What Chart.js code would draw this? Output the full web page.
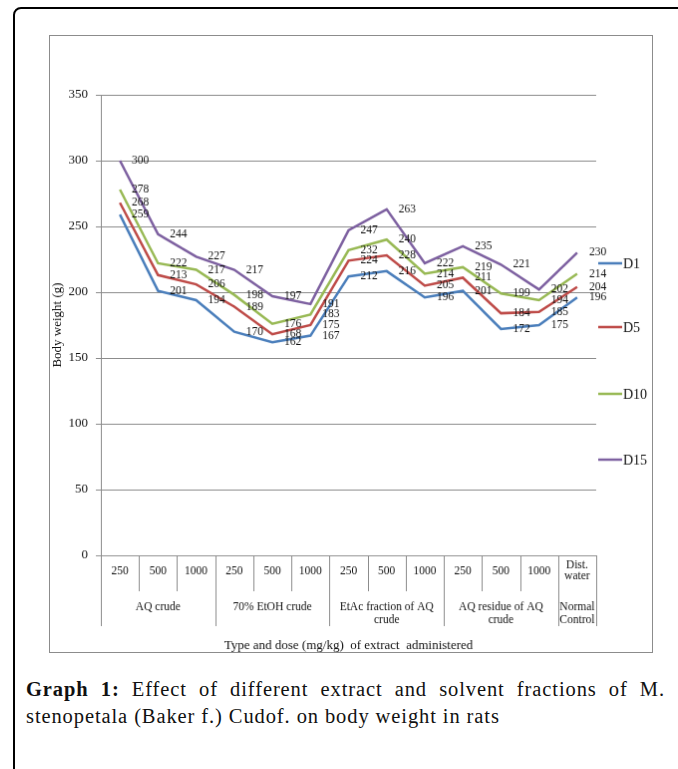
<!DOCTYPE html>
<html>
<head>
<meta charset="utf-8">
<script src="https://cdn.jsdelivr.net/npm/chart.js"></script>
<style>
  body { margin: 0; background: #fff; width: 678px; height: 769px; overflow: hidden; position: relative; }
  #frame { position: absolute; left: 13px; top: 7px; width: 720px; height: 800px; border: 2px solid #000; border-radius: 8px; }
  #chart { position: absolute; left: 49px; top: 35px; border: 1px solid #8c8c8c; }
  #caption { position: absolute; left: 26px; top: 676px; width: 639px; font-family: "Liberation Serif", serif; font-size: 20.5px; letter-spacing: 0.9px; line-height: 27px; text-align: justify; text-align-last: left; color: #111; }
</style>
</head>
<body>
<div id="frame"></div>
<canvas id="chart" width="604" height="618"></canvas>
<div id="caption"><b>Graph 1:</b> Effect of different extract and solvent fractions of M. stenopetala (Baker f.) Cudof. on body weight in rats</div>
<script>
// categories (dose) and their groups
const doses = ['250', '500', '1000', '250', '500', '1000', '250', '500', '1000', '250', '500', '1000', ['Dist.', 'water']];
const groups = [
  { name: ['AQ crude'], span: 3 },
  { name: ['70% EtOH crude'], span: 3 },
  { name: ['EtAc fraction of AQ', 'crude'], span: 3 },
  { name: ['AQ residue of AQ', 'crude'], span: 3 },
  { name: ['Normal', 'Control'], span: 1 }
];
const seriesNames = ['D1', 'D5', 'D10', 'D15'];
const d1 = [259, 201, 194, 170, 162, 167, 212, 216, 196, 201, 172, 175, 196];
const d5 = [268, 213, 206, 189, 168, 175, 224, 228, 205, 211, 184, 185, 204];
const d10 = [278, 222, 217, 198, 176, 183, 232, 240, 214, 219, 199, 194, 214];
const d15 = [300, 244, 227, 217, 197, 191, 247, 263, 222, 235, 221, 202, 230];
const colors = ['#4a7ebb', '#be4b48', '#98b954', '#7d60a0'];
const yTicks = [0, 50, 100, 150, 200, 250, 300, 350];

const serif = '"Liberation Serif", "Times New Roman", serif';
const gridColor = '#8c8c8c';

// data labels to the right of each point
const valueLabels = {
  id: 'valueLabels',
  afterDatasetsDraw(chart) {
    const ctx = chart.ctx;
    ctx.save();
    ctx.font = '11.5px ' + serif;
    ctx.fillStyle = '#111';
    ctx.textAlign = 'left';
    ctx.textBaseline = 'middle';
    chart.data.datasets.forEach((ds, i) => {
      chart.getDatasetMeta(i).data.forEach((pt, j) => {
        ctx.fillText(String(ds.data[j]), pt.x + 12, pt.y);
      });
    });
    ctx.restore();
  }
};

// two-level category axis + legend
const catAxis = {
  id: 'catAxis',
  afterDraw(chart) {
    const ctx = chart.ctx;
    const area = chart.chartArea;
    const n = doses.length;
    const w = (area.right - area.left) / n;
    ctx.save();
    ctx.strokeStyle = gridColor;
    ctx.lineWidth = 1;
    const groupEdges = [0];
    groups.forEach(g => groupEdges.push(groupEdges[groupEdges.length - 1] + g.span));
    for (let i = 0; i <= n; i++) {
      const x = Math.round(area.left + i * w) + 0.5;
      const len = groupEdges.includes(i) ? 71 : 36;
      ctx.beginPath();
      ctx.moveTo(x, area.bottom);
      ctx.lineTo(x, area.bottom + len);
      ctx.stroke();
    }
    ctx.fillStyle = '#111';
    ctx.textAlign = 'center';
    ctx.textBaseline = 'middle';
    ctx.font = '11.5px ' + serif;
    doses.forEach((d, i) => {
      const x = area.left + (i + 0.5) * w;
      if (Array.isArray(d)) {
        ctx.fillText(d[0], x, area.bottom + 10);
        ctx.fillText(d[1], x, area.bottom + 21);
      } else {
        ctx.fillText(d, x, area.bottom + 16);
      }
    });
    groups.forEach((g, k) => {
      const x = area.left + (groupEdges[k] + g.span / 2) * w;
      g.name.forEach((line, m) => ctx.fillText(line, x, area.bottom + 52 + m * 13));
    });
    ctx.font = '13px ' + serif;
    ctx.fillText('Type and dose (mg/kg)  of extract  administered', (area.left + area.right) / 2, area.bottom + 91);

    // legend
    const legendY = [228, 292, 359, 425];
    ctx.textAlign = 'left';
    ctx.font = '14px ' + serif;
    seriesNames.forEach((s, i) => {
      ctx.strokeStyle = colors[i];
      ctx.lineWidth = 2.5;
      ctx.beginPath();
      ctx.moveTo(area.right + 2, legendY[i]);
      ctx.lineTo(area.right + 26, legendY[i]);
      ctx.stroke();
      ctx.fillText(s, area.right + 27, legendY[i] + 1);
    });
    ctx.restore();
  }
};

new Chart(document.getElementById('chart'), {
  type: 'line',
  data: {
    labels: doses,
    datasets: [d1, d5, d10, d15].map((vals, i) => ({
      label: seriesNames[i],
      data: vals,
      borderColor: colors[i],
      backgroundColor: colors[i],
      borderWidth: 2.5,
      pointRadius: 0,
      tension: 0,
      fill: false
    }))
  },
  options: {
    responsive: false,
    animation: false,
    layout: { padding: { top: 59, right: 56, bottom: 97, left: 0 } },
    plugins: { legend: { display: false }, tooltip: { enabled: false } },
    scales: {
      x: { display: false, offset: true },
      y: {
        min: 0,
        max: 350,
        afterFit(scale) { scale.width = 51; },
        afterBuildTicks(scale) { scale.ticks = yTicks.map(v => ({ value: v })); },
        grid: { color: gridColor, tickLength: 5 },
        border: { color: gridColor },
        ticks: { color: '#111', padding: 8, font: { family: serif, size: 13 } },
        title: { display: true, text: 'Body weight (g)', color: '#111', padding: 0, font: { family: serif, size: 13 } }
      }
    }
  },
  plugins: [valueLabels, catAxis]
});
</script>
</body>
</html>
